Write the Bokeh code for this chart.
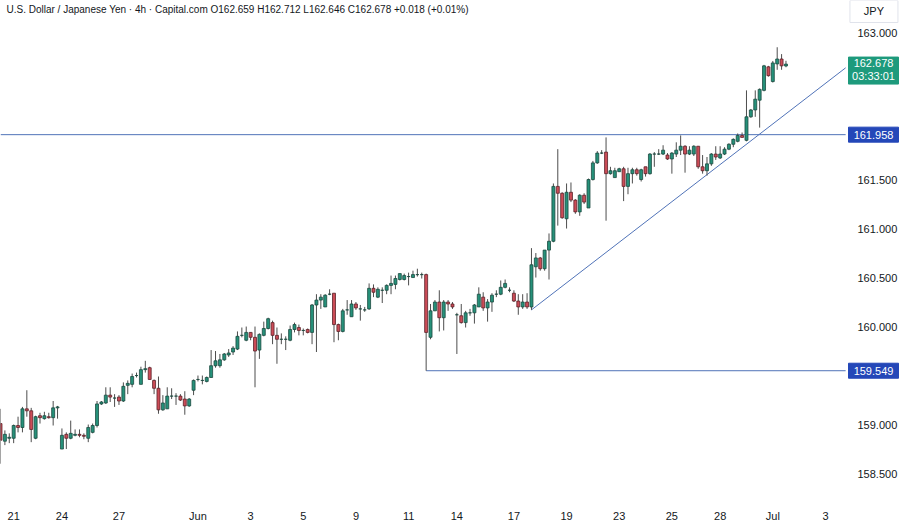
from bokeh.plotting import figure
from bokeh.models import (Range1d, FixedTicker, Label, LinearAxis, ColumnDataSource)
from bokeh.core.properties import value
from bokeh.embed import file_html
from bokeh.resources import INLINE

opens = [159.01, 158.83, 158.86, 158.86, 158.99, 158.97, 159.16, 159.14, 158.86, 159.09,
         159.06, 159.08, 159.07, 159.17, 158.75, 158.90, 158.86, 158.89, 158.90, 158.89,
         158.86, 158.92, 158.99, 159.21, 159.22, 159.30, 159.27, 159.28, 159.24, 159.40,
         159.41, 159.50, 159.41, 159.56, 159.58, 159.45, 159.37, 159.15, 159.16, 159.29,
         159.29, 159.29, 159.26, 159.19, 159.35, 159.46, 159.45, 159.44, 159.48, 159.60,
         159.60, 159.66, 159.71, 159.74, 159.77, 159.91, 159.86, 159.94, 159.89, 159.76,
         159.91, 159.98, 160.04, 159.91, 159.87, 159.87, 159.86, 159.97, 159.99, 159.96,
         159.97, 159.94, 160.22, 160.27, 160.20, 160.33, 160.34, 160.02, 159.95, 160.17,
         160.10, 160.23, 160.18, 160.17, 160.18, 160.39, 160.30, 160.37, 160.37, 160.42,
         160.43, 160.48, 160.48, 160.51, 160.50, 160.53, 160.53, 160.53, 159.89, 160.16,
         160.25, 160.09, 160.25, 160.23, 160.12, 160.11, 160.04, 160.14, 160.14, 160.20,
         160.30, 160.19, 160.25, 160.33, 160.33, 160.40, 160.37, 160.34, 160.26, 160.20,
         160.25, 160.20, 160.61, 160.70, 160.59, 160.78, 160.87, 161.43, 161.36, 161.10,
         161.37, 161.29, 161.17, 161.34, 161.21, 161.50, 161.67, 161.77, 161.78, 161.56,
         161.52, 161.58, 161.61, 161.43, 161.56, 161.60, 161.50, 161.63, 161.56, 161.76,
         161.76, 161.76, 161.75, 161.71, 161.76, 161.80, 161.84, 161.76, 161.76, 161.84,
         161.63, 161.59, 161.66, 161.76, 161.72, 161.76, 161.81, 161.86, 161.89, 161.95,
         161.90, 162.14, 162.21, 162.31, 162.41, 162.65, 162.50, 162.68, 162.73, 162.659]
highs = [159.16, 158.94, 158.91, 159.00, 159.08, 159.18, 159.35, 159.17, 159.09, 159.12,
         159.13, 159.12, 159.24, 159.19, 158.96, 158.92, 159.04, 158.95, 158.95, 158.91,
         159.00, 159.01, 159.24, 159.24, 159.38, 159.38, 159.31, 159.30, 159.43, 159.45,
         159.52, 159.53, 159.59, 159.65, 159.59, 159.46, 159.49, 159.30, 159.38, 159.37,
         159.32, 159.31, 159.34, 159.27, 159.46, 159.50, 159.50, 159.49, 159.76, 159.75,
         159.72, 159.73, 159.77, 159.80, 159.95, 159.99, 160.00, 159.94, 160.00, 159.93,
         160.05, 160.09, 160.06, 159.99, 159.93, 159.90, 160.01, 160.04, 160.02, 159.98,
         159.98, 160.23, 160.33, 160.33, 160.33, 160.38, 160.34, 160.03, 160.18, 160.27,
         160.27, 160.25, 160.22, 160.20, 160.44, 160.43, 160.40, 160.40, 160.43, 160.52,
         160.52, 160.54, 160.54, 160.55, 160.57, 160.59, 160.55, 160.54, 160.23, 160.27,
         160.37, 160.27, 160.27, 160.25, 160.14, 160.23, 160.16, 160.18, 160.23, 160.40,
         160.35, 160.28, 160.34, 160.37, 160.47, 160.48, 160.40, 160.37, 160.33, 160.33,
         160.34, 160.80, 160.75, 160.71, 160.78, 160.95, 161.46, 161.81, 161.37, 161.46,
         161.47, 161.30, 161.35, 161.36, 161.51, 161.69, 161.79, 161.80, 161.93, 161.63,
         161.62, 161.62, 161.63, 161.62, 161.62, 161.62, 161.61, 161.63, 161.77, 161.78,
         161.81, 161.85, 161.77, 161.78, 161.88, 161.95, 161.85, 161.84, 161.85, 161.84,
         161.75, 161.73, 161.77, 161.84, 161.84, 161.83, 161.87, 161.92, 161.97, 161.98,
         162.41, 162.22, 162.41, 162.43, 162.67, 162.66, 162.71, 162.85, 162.78, 162.712]
lows = [158.60, 158.79, 158.81, 158.81, 158.92, 158.92, 159.08, 158.82, 158.85, 159.01,
        159.05, 159.06, 158.99, 159.06, 158.75, 158.75, 158.85, 158.88, 158.87, 158.85,
        158.82, 158.91, 158.97, 159.20, 159.21, 159.23, 159.18, 159.20, 159.23, 159.31,
        159.38, 159.48, 159.41, 159.53, 159.46, 159.31, 159.11, 159.14, 159.16, 159.26,
        159.20, 159.24, 159.10, 159.18, 159.30, 159.44, 159.41, 159.43, 159.48, 159.58,
        159.58, 159.65, 159.69, 159.71, 159.76, 159.89, 159.85, 159.86, 159.38, 159.67,
        159.90, 159.97, 159.82, 159.62, 159.82, 159.76, 159.85, 159.94, 159.91, 159.91,
        159.93, 159.82, 159.74, 160.18, 160.20, 160.32, 159.84, 159.86, 159.94, 160.12,
        160.10, 160.17, 160.06, 160.15, 160.17, 160.30, 160.29, 160.24, 160.33, 160.33,
        160.38, 160.47, 160.47, 160.42, 160.50, 160.51, 160.49, 159.549, 159.87, 160.16,
        159.95, 159.96, 160.16, 160.18, 159.72, 160.03, 159.99, 160.11, 160.03, 160.20,
        160.16, 160.05, 160.15, 160.30, 160.32, 160.39, 160.35, 160.25, 160.12, 160.18,
        160.18, 160.17, 160.50, 160.57, 160.57, 160.48, 160.86, 161.03, 161.10, 161.00,
        161.27, 161.15, 161.13, 161.25, 161.21, 161.49, 161.66, 161.76, 161.08, 161.55,
        161.52, 161.58, 161.28, 161.35, 161.46, 161.54, 161.48, 161.53, 161.55, 161.63,
        161.75, 161.75, 161.70, 161.56, 161.73, 161.75, 161.57, 161.75, 161.74, 161.61,
        161.56, 161.54, 161.64, 161.70, 161.71, 161.75, 161.80, 161.83, 161.88, 161.93,
        161.89, 162.13, 162.14, 162.03, 162.40, 162.55, 162.49, 162.62, 162.62, 162.646]
closes = [158.84, 158.90, 158.87, 158.99, 158.97, 159.16, 159.14, 158.95, 159.08, 159.07,
          159.09, 159.07, 159.17, 159.18, 158.89, 158.86, 158.91, 158.90, 158.89, 158.88,
          158.97, 158.99, 159.21, 159.23, 159.30, 159.28, 159.27, 159.24, 159.39, 159.42,
          159.49, 159.50, 159.56, 159.57, 159.46, 159.37, 159.15, 159.22, 159.29, 159.29,
          159.29, 159.25, 159.19, 159.26, 159.45, 159.46, 159.45, 159.48, 159.60, 159.65,
          159.66, 159.72, 159.73, 159.78, 159.90, 159.91, 159.94, 159.89, 159.75, 159.92,
          159.98, 160.08, 159.91, 159.87, 159.87, 159.87, 159.97, 160.02, 159.96, 159.96,
          159.94, 160.22, 160.27, 160.30, 160.32, 160.33, 160.02, 159.95, 160.16, 160.17,
          160.23, 160.19, 160.18, 160.17, 160.39, 160.35, 160.38, 160.37, 160.42, 160.44,
          160.49, 160.54, 160.52, 160.51, 160.53, 160.53, 160.53, 159.94, 160.16, 160.25,
          160.09, 160.25, 160.23, 160.20, 160.12, 160.04, 160.14, 160.14, 160.22, 160.33,
          160.19, 160.25, 160.32, 160.33, 160.40, 160.44, 160.37, 160.26, 160.20, 160.25,
          160.20, 160.63, 160.70, 160.59, 160.78, 160.87, 161.43, 161.36, 161.11, 161.37,
          161.29, 161.17, 161.34, 161.27, 161.50, 161.67, 161.77, 161.77, 161.56, 161.59,
          161.59, 161.61, 161.43, 161.56, 161.60, 161.56, 161.60, 161.56, 161.76, 161.76,
          161.76, 161.80, 161.71, 161.77, 161.80, 161.84, 161.76, 161.80, 161.84, 161.63,
          161.59, 161.66, 161.76, 161.73, 161.76, 161.81, 161.86, 161.91, 161.95, 161.93,
          162.14, 162.21, 162.32, 162.42, 162.66, 162.56, 162.69, 162.73, 162.66, 162.678]

# time-axis labels (bar index -> label)
date_ticks = [3, 14, 27, 45, 57, 69, 81, 93, 104, 117, 129, 141, 153, 164, 176, 188]
date_labels = ["21", "24", "27", "Jun", "3", "5", "9", "11", "14", "17", "19",
               "23", "25", "28", "Jul", "3"]
# price-scale labels
price_ticks = [163.0, 161.5, 161.0, 160.5, 160.0, 159.0, 158.5]

# drawn levels and trend line
resistance_level = 161.958
support_level = 159.549
support_start = 97
trend_x = [121, 192.6]
trend_y = [160.17, 162.64]

title_text = ("U.S. Dollar / Japanese Yen \u00b7 4h \u00b7 Capital.com  O162.659  H162.712  "
              "L162.646  C162.678  +0.018 (+0.01%)")
currency = "JPY"
last_price = 162.678
countdown = "03:33:01"

# layout constants (bar units)
BARS_VISIBLE = 192.6     # right edge of the chart pane
SCALE_END = 205.1        # right edge of the window
SCALE_TEXT_X = 195.3     # left edge of price-scale texts
TAG_X = 198.95           # centre of price tags
PRICE_TOP, PRICE_BOTTOM = 163.327, 158.235

UP = "#26917a"
UP_LINE = "#1c4a40"
DOWN = "#cc4c57"
DOWN_LINE = "#5a2228"
WICK = "#4d4d4d"
LEVEL = "#5073b8"
TAG_BLUE = "#2447b8"
TAG_GREEN = "#1e9a7c"
TEXT = "#131722"
FONT = "Liberation Sans"

n = len(opens)
idx = list(range(n))
up = [c >= o for o, c in zip(opens, closes)]
src = ColumnDataSource(dict(
    x=idx, o=opens, h=highs, l=lows, c=closes,
    top=[max(o, c) for o, c in zip(opens, closes)],
    bot=[min(o, c) for o, c in zip(opens, closes)],
    fill=[UP if u else DOWN for u in up],
    line=[UP_LINE if u else DOWN_LINE for u in up],
))

p = figure(width=900, height=527, output_backend="svg", toolbar_location=None,
           x_range=Range1d(0, SCALE_END), y_range=Range1d(PRICE_BOTTOM, PRICE_TOP),
           x_axis_location=None, y_axis_location=None,
           min_border_left=0, min_border_top=0, min_border_right=0, min_border_bottom=28)
p.outline_line_color = None
p.background_fill_color = "white"
p.border_fill_color = "white"
p.xgrid.visible = False
p.ygrid.visible = False

xaxis = LinearAxis(ticker=FixedTicker(ticks=date_ticks),
                   major_label_overrides={t: s for t, s in zip(date_ticks, date_labels)})
xaxis.axis_line_color = None
xaxis.major_tick_line_color = None
xaxis.minor_tick_line_color = None
xaxis.major_tick_out = 0
xaxis.major_tick_in = 0
xaxis.minor_tick_out = 0
xaxis.major_label_standoff = 10
xaxis.major_label_text_font = FONT
xaxis.major_label_text_font_size = "11px"
xaxis.major_label_text_color = TEXT
p.add_layout(xaxis, "below")

# levels
p.line(x=[0, BARS_VISIBLE], y=[resistance_level] * 2, line_color=LEVEL, line_width=1)
p.line(x=[support_start, BARS_VISIBLE], y=[support_level] * 2, line_color=LEVEL, line_width=1)
p.line(x=trend_x, y=trend_y, line_color=LEVEL, line_width=1)

# candles
p.segment(x0="x", y0="h", x1="x", y1="l", source=src, line_color=WICK, line_width=1)
p.vbar(x="x", width=0.68, top="top", bottom="bot", source=src,
       fill_color="fill", line_color="line", line_width=0.8)

# price scale
p.text(x=[SCALE_TEXT_X] * len(price_ticks), y=price_ticks,
       text=[f"{v:.3f}" for v in price_ticks], text_font=value(FONT),
       text_font_size="11px", text_color=TEXT, text_baseline="middle", text_align="left")

# currency box
p.rect(x=[TAG_X + 0.1], y=[163.215], width=48, height=22, width_units="screen",
       height_units="screen", fill_color="white", line_color="#e0e3eb")
p.text(x=[TAG_X + 0.1], y=[163.215], text=[currency], text_font=value(FONT),
       text_font_size="11px", text_color=TEXT, text_baseline="middle", text_align="center")

# level tags
tag_levels = [resistance_level, support_level]
p.rect(x=[TAG_X] * 2, y=tag_levels, width=50, height=15, width_units="screen",
       height_units="screen", fill_color=TAG_BLUE, line_color=TAG_BLUE)
p.text(x=[TAG_X] * 2, y=tag_levels, text=[f"{v:.3f}" for v in tag_levels],
       text_font=value(FONT), text_font_size="11px", text_color="white",
       text_baseline="middle", text_align="center")

# last price tag (price + bar countdown)
p.rect(x=[TAG_X], y=[last_price - 0.066], width=50, height=27, width_units="screen",
       height_units="screen", fill_color=TAG_GREEN, line_color=TAG_GREEN)
p.text(x=[TAG_X, TAG_X], y=[last_price + 0.016, last_price - 0.118],
       text=[f"{last_price:.3f}", countdown], text_font=value(FONT),
       text_font_size="11px", text_color="white", text_baseline="middle", text_align="center")

# title
p.add_layout(Label(x=6, y=163.235, x_units="screen", y_units="data", text=title_text,
                   text_font=FONT, text_font_size="10px", text_color=TEXT,
                   text_baseline="middle"))

open("out.html", "w").write(file_html(p, INLINE))
